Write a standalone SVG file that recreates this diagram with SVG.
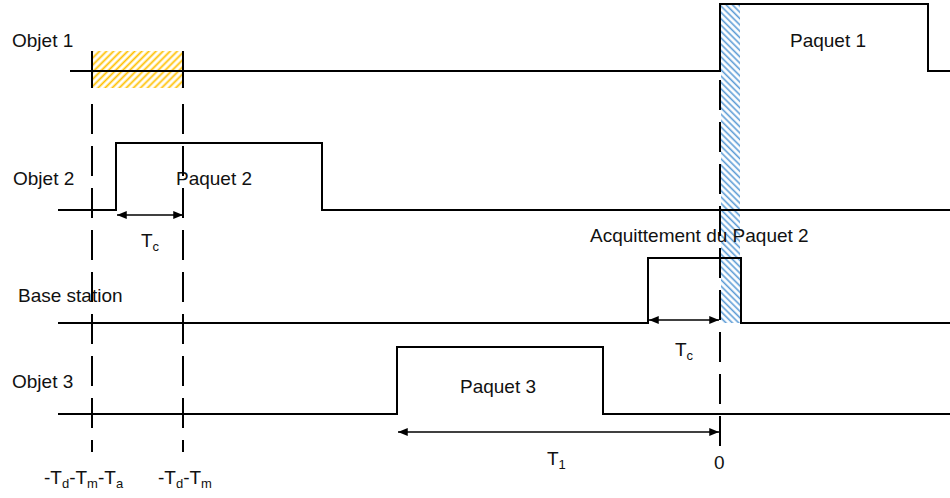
<svg xmlns="http://www.w3.org/2000/svg" width="950" height="498" viewBox="0 0 950 498">
<style>
text{font-family:"Liberation Sans",Arial,sans-serif;font-size:19px;fill:#111}
.sig{fill:none;stroke:#000;stroke-width:2}
.dash{fill:none;stroke:#000;stroke-width:2;stroke-dasharray:30 12}
.dim{fill:none;stroke:#000;stroke-width:1.5;marker-start:url(#ah);marker-end:url(#ah)}
.sub{font-size:13px}
</style>
<defs>
<pattern id="hy" patternUnits="userSpaceOnUse" width="5" height="5" patternTransform="rotate(45)">
<line x1="1.5" y1="0" x2="1.5" y2="5" stroke="#FFC000" stroke-width="1.8"/>
</pattern>
<pattern id="hb" patternUnits="userSpaceOnUse" width="4.5" height="4.5" patternTransform="rotate(-45)">
<line x1="1.5" y1="0" x2="1.5" y2="4.5" stroke="#5B9BD5" stroke-width="1.6"/>
</pattern>
<marker id="ah" viewBox="0 0 10 10" refX="10" refY="5" markerWidth="6.5" markerHeight="6.5" orient="auto-start-reverse" markerUnits="strokeWidth">
<path d="M0,1 L10,5 L0,9 Z" fill="#000"/>
</marker>
</defs>
<rect width="950" height="498" fill="#fff"/>

<g id="hatch-windows">
<rect x="92" y="51" width="91" height="37" fill="url(#hy)"/>
<rect x="721" y="4" width="19" height="319" fill="url(#hb)"/>
</g>

<g id="objet1">
<text x="12" y="47">Objet 1</text>
<polyline class="sig" points="70,71 720,71 720,4 928,4 928,71 950,71"/>
<text x="790" y="47">Paquet 1</text>
</g>

<g id="objet2">
<text x="13" y="185">Objet 2</text>
<polyline class="sig" points="58,210 116,210 116,143 322,143 322,210 950,210"/>
<text x="176" y="185">Paquet 2</text>
</g>

<g id="base-station">
<text x="18" y="302">Base station</text>
<polyline class="sig" points="58,323 648,323 648,258 741,258 741,323 950,323"/>
<text x="590" y="242">Acquittement du Paquet 2</text>
</g>

<g id="objet3">
<text x="12" y="388">Objet 3</text>
<polyline class="sig" points="58,414 397,414 397,347 603,347 603,414 950,414"/>
<text x="460" y="393">Paquet 3</text>
</g>

<g id="connectors">
<line class="sig" x1="92" y1="51" x2="92" y2="88"/>
<line class="sig" x1="183" y1="51" x2="183" y2="88"/>
<line class="dash" x1="92" y1="104" x2="92" y2="452"/>
<line class="dash" x1="183" y1="104" x2="183" y2="452"/>
<line class="dash" x1="720" y1="80" x2="720" y2="450"/>
<line class="dim" x1="117" y1="215" x2="183" y2="215"/>
<line class="dim" x1="649" y1="320" x2="719" y2="320"/>
<line class="dim" x1="398" y1="432" x2="719" y2="432"/>
</g>

<g id="labels">
<text x="141" y="247">T<tspan class="sub" dy="4">c</tspan></text>
<text x="675" y="356">T<tspan class="sub" dy="4">c</tspan></text>
<text x="547" y="465">T<tspan class="sub" dy="4">1</tspan></text>
<text x="714" y="469">0</text>
<text x="44" y="484">-T<tspan class="sub" dy="4">d</tspan><tspan dy="-4">-T</tspan><tspan class="sub" dy="4">m</tspan><tspan dy="-4">-T</tspan><tspan class="sub" dy="4">a</tspan></text>
<text x="158" y="484">-T<tspan class="sub" dy="4">d</tspan><tspan dy="-4">-T</tspan><tspan class="sub" dy="4">m</tspan></text>
</g>
</svg>
